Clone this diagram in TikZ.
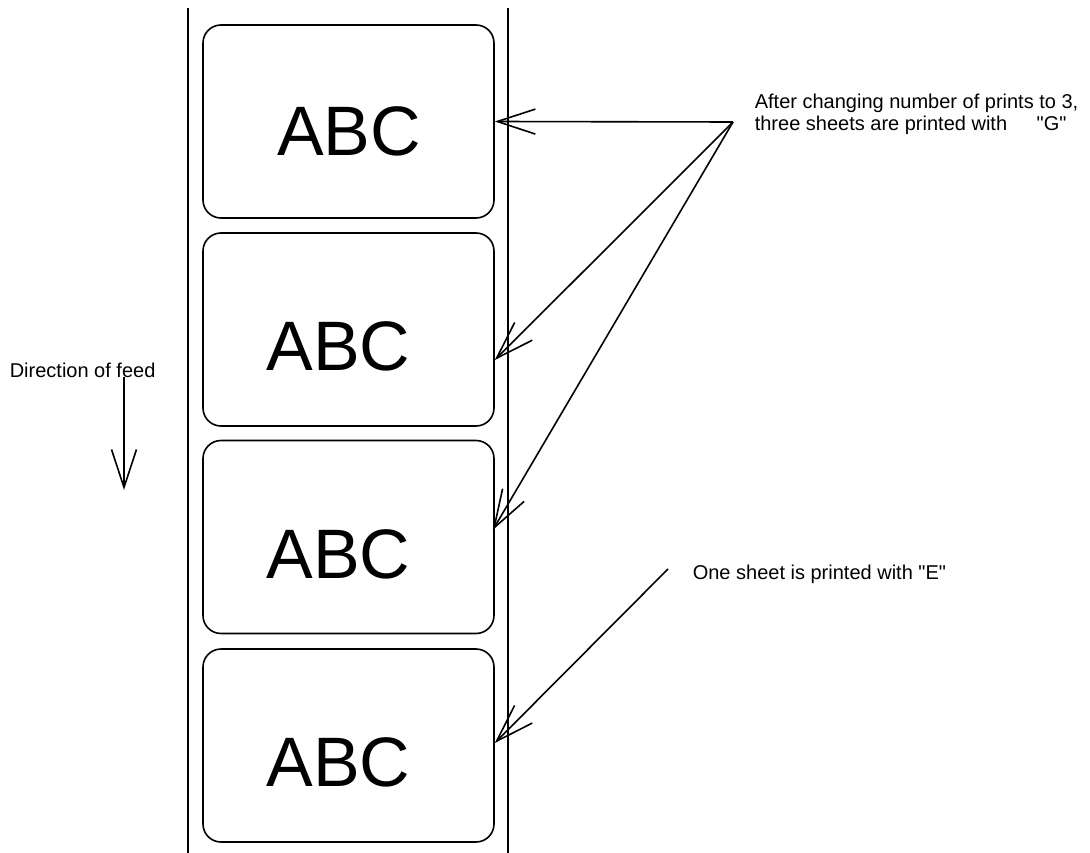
\documentclass[tikz,border=0pt]{standalone}
\usepackage{fontspec}
\setmainfont{Liberation Sans}
\usetikzlibrary{arrows.meta}
\tikzset{
    sheet-box/.style = {draw, rectangle, rounded corners=18pt, minimum width=291pt, minimum height=193pt, inner sep=0pt},
    sheet-text/.style = {font=\fontsize{70}{70}\selectfont, inner sep=0pt, anchor=base},
    note-text/.style = {font=\fontsize{20}{22}\selectfont, inner sep=0pt, align=left},
    pointer/.style = {draw, -{Straight Barb[length=38pt,width=25pt]}},
}

\begin{document}
\begin{tikzpicture}[x=1pt, y=-1pt, line width=1.6pt]
\useasboundingbox (0,0) rectangle (1090,853);
% paper strip
\draw (188,8) -- (188,853);
\draw (508,8) -- (508,853);
% sheets on the strip
\node [sheet-box] (s1) at (348.5,121.5) {};
\node [sheet-box] (s2) at (348.5,329.5) {};
\node [sheet-box] (s3) at (348.5,537) {};
\node [sheet-box] (s4) at (348.5,745.5) {};
\node [sheet-text] (t1) at (349,156) {ABC};
\node [sheet-text] (t2) at (338.5,370) {ABC};
\node [sheet-text] (t3) at (338.5,578) {ABC};
\node [sheet-text] (t4) at (338.5,786) {ABC};
% notes
\node [note-text, anchor=north west] (multi) at (754,93) {After changing number of prints to 3,\\three sheets are printed with \hspace{24pt}\textquotedbl G\textquotedbl};
\node [note-text, anchor=base west] (single) at (692,579) {One sheet is printed with \textquotedbl E\textquotedbl};
\node [note-text, anchor=base west] (feed) at (9,377) {Direction of feed};
\coordinate (apex) at (733,122);
\coordinate (single-start) at (668,569);
\coordinate (feed-top) at (124,377);
\coordinate (feed-end) at (124,490);
% pointers
\draw [pointer] (apex) -- (s1.east);
\draw [pointer] (apex) -- ([yshift=-30.5pt]s2.east);
\draw [pointer] (apex) -- ([xshift=-2pt,yshift=7pt]s3.east);
\draw [pointer] (single-start) -- ([yshift=2.5pt]s4.east);
\draw [pointer] (feed-top) -- (feed-end);
\end{tikzpicture}
\end{document}
